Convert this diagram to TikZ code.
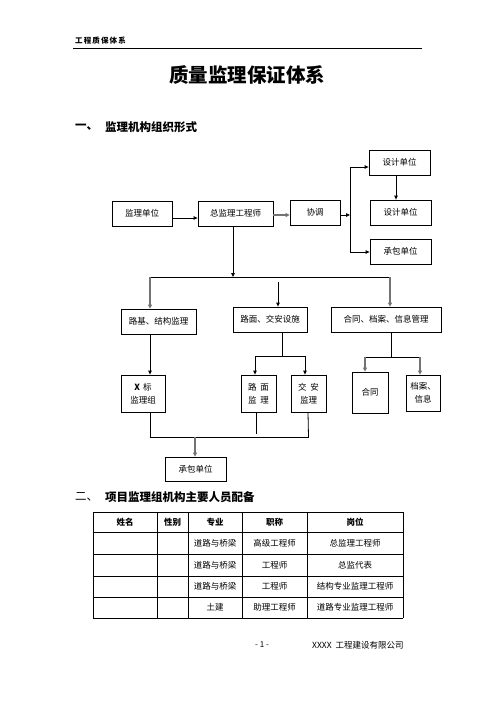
\documentclass[tikz,border=0pt]{standalone}
\usepackage{fontspec}
\setmainfont{Noto Sans CJK SC}
\usetikzlibrary{arrows.meta}

\begin{document}
\begin{tikzpicture}[x=1pt,y=-1pt]
      \tikzstyle{every node}=[font=\fontsize{8.5}{13}\selectfont, inner sep=0pt]
      \tikzstyle{box}=[draw, line width=0.8pt, align=center]
      \tikzstyle{link}=[line width=0.8pt]
      \tikzstyle{arr}=[line width=0.8pt, -{Triangle[length=4pt,width=3.5pt]}]
      \tikzstyle{garr}=[line width=1.3pt, draw=black!55, -{Triangle[length=4pt,width=4pt]}]
      \tikzstyle{head}=[font=\fontsize{11.5}{13}\selectfont\bfseries, anchor=west]
      \useasboundingbox[fill=white] (0,0) rectangle (496,702);

      % Page header
      \node[font=\fontsize{7.5}{9}\selectfont\bfseries\addfontfeature{LetterSpace=15}, anchor=west] (hdr) at (75,41) {工程质保体系};
      \draw[link] (73,48) -- (422,48);
      \node[font=\fontsize{19.5}{22}\selectfont\bfseries] (title) at (247,75) {质量监理保证体系};
      \node[head] (sec1n) at (75,127) {一、};
      \node[head] (sec1) at (105,127) {监理机构组织形式};

      % Top row
      \node[box, minimum width=60, minimum height=25] (jldw) at (142,213.5) {监理单位};
      \node[box, minimum width=75, minimum height=25] (zjl) at (235.5,213.5) {总监理工程师};
      \node[box, minimum width=50, minimum height=25] (xt) at (315,212.5) {协调};
      \node[box, minimum width=61, minimum height=25] (sj1) at (399.5,162.5) {设计单位};
      \node[box, minimum width=61, minimum height=25] (sj2) at (400.5,212.5) {设计单位};
      \node[box, minimum width=61, minimum height=25] (cb1) at (400.5,251.5) {承包单位};
      \draw[arr] ([yshift=-4.5]jldw.east) -- ([yshift=-4.5]zjl.west);
      \draw[garr] ([yshift=-1.5]zjl.east) -- ([yshift=-2.5]xt.west);
      % Branch to the right
      \coordinate (br) at (350,215);
      \coordinate (brt) at (350,167);
      \coordinate (brb) at (350,252);
      \draw[arr] ([yshift=-2.5]xt.east) -- (br);
      \draw[link] (brt) -- (brb);
      \draw[arr] (brt) -- (brt -| sj1.west);
      \draw[arr] (brb) -- (brb -| cb1.west);
      \draw[arr] ([xshift=-3.5]sj1.south) -- ([xshift=-4.5]sj2.north);

      % Bus under the chief engineer
      \coordinate (busm) at (233,277);
      \coordinate (busl) at (150,277);
      \coordinate (busr) at (390,277);
      \coordinate (busc) at (278,282);
      \draw[arr] ([xshift=-2.5]zjl.south) -- (busm);
      \draw[link] (busl) -- (busr);

      % Second row
      \node[box, minimum width=75, minimum height=25] (lj) at (158.5,321.5) {路基、结构监理};
      \node[box, minimum width=74, minimum height=25] (lm) at (270,319.5) {路面、交安设施};
      \node[box, minimum width=110, minimum height=25] (ht) at (386,319.5) {合同、档案、信息管理};
      \draw[garr] (busl) -- (busl |- lj.north);
      \draw[arr] (busc) -- (busc |- lm.north);
      \draw[garr] (busr) -- (busr |- ht.north);

      % Third row
      \node[box, minimum width=44, minimum height=37] (xb) at (143,393.5) {\textbf{X}\hspace{3pt}标\\监理组};
      \node[box, minimum width=35, minimum height=37] (lmjl) at (258.5,393.5) {路\hspace{4pt}面\\监\hspace{4pt}理};
      \node[box, minimum width=35, minimum height=37] (jajl) at (308.5,393.5) {交\hspace{4pt}安\\监理};
      \node[box, minimum width=36, minimum height=41] (hetong) at (370,392.5) {合同};
      \node[box, minimum width=34, minimum height=36] (da) at (423,393) {档案、\\信息};
      % Road works split
      \coordinate (lmd) at (282,356);
      \coordinate (lml) at (255,356);
      \coordinate (lmr) at (305,356);
      \draw[link] ([xshift=12]lm.south) -- (lmd);
      \draw[link] (lml) -- (lmr);
      \draw[arr] (lml) -- (lml |- lmjl.north);
      \draw[arr] (lmr) -- (lmr |- jajl.north);
      % Contract split
      \coordinate (htd) at (391,357);
      \coordinate (htl) at (365,357);
      \coordinate (htr) at (420,357);
      \draw[link] ([xshift=5]ht.south) -- (htd);
      \draw[link] (htl) -- (htr);
      \draw[garr] (htl) -- (htl |- hetong.north);
      \draw[garr] (htr) -- (htr |- da.north);
      \draw[arr] ([xshift=-8.5]lj.south) -- ([xshift=7]xb.north);

      % Collect to contractor
      \coordinate (cl) at (150,437);
      \coordinate (cm) at (256,434);
      \coordinate (cr) at (309,437);
      \coordinate (cc) at (195,437);
      \draw[link] ([xshift=7]xb.south) -- (cl);
      \draw[link] ([xshift=-2.5]lmjl.south) -- (cm);
      \draw[link] ([xshift=-0.5]jajl.south) -- (cr -| jajl.south);
      \draw[link] (cl) -- (cr);
      \node[box, minimum width=61, minimum height=24] (cb2) at (195.5,469) {承包单位};
      \draw[garr] (cc) -- (cc |- cb2.north);

      % Staff table
      \node[head, font=\fontsize{11.5}{13}\selectfont] (sec2n) at (75,497) {二、};
      \node[head] (sec2) at (105,497) {项目监理组机构主要人员配备};
      \foreach \y in {512,532,554,576,597,618}
        \draw[link] (93,\y) -- (403,\y);
      \foreach \x in {93,157,188,242,307,403}
        \draw[link] (\x,512) -- (\x,618);
      \node[font=\fontsize{8.5}{10}\selectfont\bfseries] (thxm) at (125,522) {姓名};
      \node[font=\fontsize{8.5}{10}\selectfont\bfseries] (thxb) at (172.5,522) {性别};
      \node[font=\fontsize{8.5}{10}\selectfont\bfseries] (thzy) at (215,522) {专业};
      \node[font=\fontsize{8.5}{10}\selectfont\bfseries] (thzc) at (274.5,522) {职称};
      \node[font=\fontsize{8.5}{10}\selectfont\bfseries] (thgw) at (355,522) {岗位};
      \foreach \a/\b/\c [count=\i] in {道路与桥梁/高级工程师/总监理工程师,
          道路与桥梁/工程师/总监代表, 道路与桥梁/工程师/结构专业监理工程师,
          土建/助理工程师/道路专业监理工程师} {
        \node (zy\i) at (215,{522+21.4*\i}) {\a};
        \node (zc\i) at (274.5,{522+21.4*\i}) {\b};
        \node (gw\i) at (355,{522+21.4*\i}) {\c};
      }

      % Page footer
      \node[font=\fontsize{8}{9}\selectfont] (pg) at (262,645) {- 1 -};
      \node[font=\fontsize{8.5}{9}\selectfont, anchor=west] (co) at (312,645) {XXXX\hspace{4pt}工程建设有限公司};
\end{tikzpicture}
\end{document}
